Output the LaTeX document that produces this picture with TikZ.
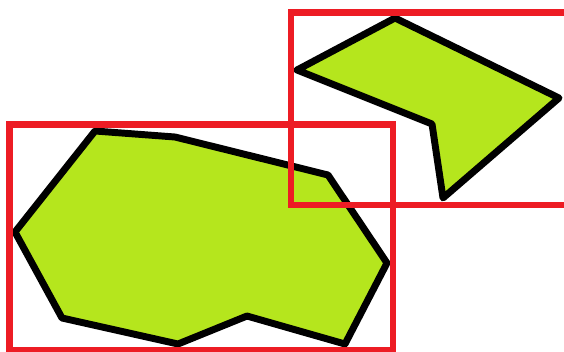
\documentclass[tikz,border=0pt]{standalone}
\usepackage{xcolor}
\definecolor{PaintLime}{HTML}{B5E61D}
\definecolor{PaintRed}{HTML}{ED1C24}
\usepackage{tikz}

\begin{document}
\begin{tikzpicture}[
  x=0.75pt,y=-0.75pt,
  blob/.style={draw=black,fill=PaintLime,line width=5.2pt,line join=round},
  bbox/.style={draw=PaintRed,line width=5pt}
]
\useasboundingbox (0,0) rectangle (564,351);
% shapes
\draw[blob] (95,131) -- (175,137) -- (328,175) -- (387,263) -- (345,344)
  -- (247,316) -- (178,344) -- (62,318) -- (15,232) -- cycle;
\draw[blob] (395,18) -- (559,98) -- (443,198) -- (432,124) -- (297,70) -- cycle;
% their boxes
\draw[bbox] (9.5,124.5) rectangle (393,350);
\draw[bbox] (291,12.5) rectangle (572,205);
\end{tikzpicture}
\end{document}
